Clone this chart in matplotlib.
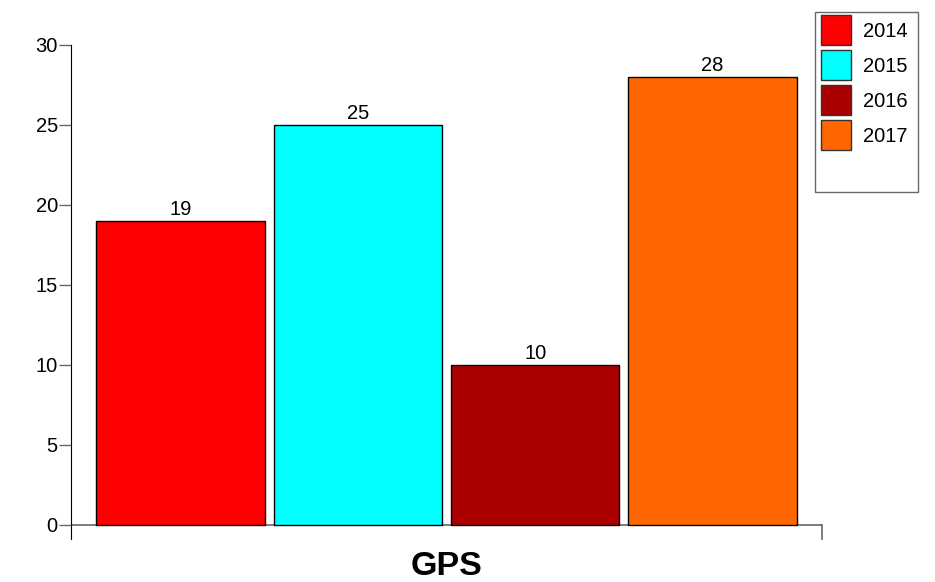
import matplotlib
matplotlib.use("Agg")
import matplotlib.pyplot as plt
from matplotlib.lines import Line2D

plt.rcParams['font.family'] = ['Liberation Sans', 'DejaVu Sans']

years = ['2014', '2015', '2016', '2017']
values = [19, 25, 10, 28]
colors = ['#ff0000', '#00ffff', '#aa0000', '#ff6600']
category = 'GPS'

fig = plt.figure(figsize=(9.35, 5.82), dpi=100)
ax = fig.add_axes([71 / 935, 43 / 582, (822 - 71) / 935, (539 - 45) / 582])

pos = list(range(len(values)))
bars = ax.bar(pos, values, width=0.95, color=colors, edgecolor='black', linewidth=1)

for b, v in zip(bars, values):
    ax.annotate(str(v), (b.get_x() + b.get_width() / 2, v), xytext=(0, 1.5),
                textcoords='offset points', ha='center', va='bottom', fontsize=14.5)

ax.set_xlim(-0.618, 3.618)
ax.set_ylim(-0.875, 30)
ax.set_yticks([0, 5, 10, 15, 20, 25, 30])
ax.set_xticks([])
ax.tick_params(axis='y', length=8.5, width=1, color='#666666', pad=1, labelsize=14.5)

for s in ['top', 'right', 'bottom']:
    ax.spines[s].set_visible(False)
ax.spines['left'].set_color('black')
ax.spines['left'].set_bounds(-0.875, 30)

# zero line and right end tick
ax.axhline(0, color='#666666', linewidth=1.2, zorder=0.5)
ax.plot([3.618, 3.618], [0, -0.875], color='#666666', linewidth=1.2, clip_on=False)

ax.text(0.5, -0.073, category, transform=ax.transAxes, ha='center', va='baseline',
        fontsize=24.5, fontweight='bold')

# square swatches, ~30px
handles = [Line2D([], [], linestyle='none', marker='s', markersize=21.5,
                  markerfacecolor=c, markeredgecolor='#333333', markeredgewidth=1, label=y)
           for c, y in zip(colors, years)]
# blank slot at the bottom of the legend box
handles.append(Line2D([], [], linestyle='none', label=' '))
leg = fig.legend(handles=handles, loc='upper left', bbox_to_anchor=(815 / 935, 1 - 12 / 582),
                 frameon=True, fancybox=False, fontsize=14.5, handlelength=1.1,
                 handletextpad=0.8, labelspacing=0.8, borderpad=0.5, borderaxespad=0)
leg.get_frame().set_edgecolor('#444444')
leg.get_frame().set_linewidth(1)

fig.savefig('out.png', dpi=100)
